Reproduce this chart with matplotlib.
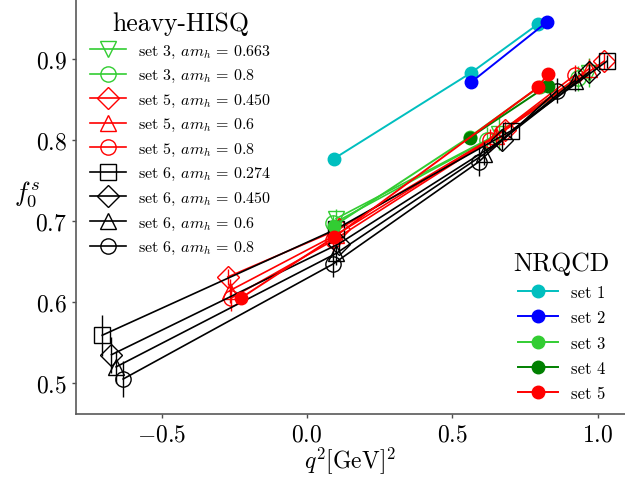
import numpy as np
import matplotlib
matplotlib.use("Agg")
import matplotlib.pyplot as plt

plt.rcParams['font.family'] = 'serif'
plt.rcParams['font.serif'] = ['cmr10']
plt.rcParams['mathtext.fontset'] = 'cm'
plt.rcParams['axes.formatter.use_mathtext'] = True

# heavy-HISQ data: (label, colour, marker, q2, f0, err)
hisq_labels = ["set 3, $am_h\\,=\\,0.663$", "set 3, $am_h\\,=\\,0.8$",
               "set 5, $am_h\\,=\\,0.450$", "set 5, $am_h\\,=\\,0.6$",
               "set 5, $am_h\\,=\\,0.8$",
               "set 6, $am_h\\,=\\,0.274$", "set 6, $am_h\\,=\\,0.450$",
               "set 6, $am_h\\,=\\,0.6$", "set 6, $am_h\\,=\\,0.8$"]
hisq_colors = ['limegreen', 'limegreen', 'red', 'red', 'red',
               'black', 'black', 'black', 'black']
hisq_markers = ['v', 'o', 'D', '^', 'o', 's', 'D', '^', 'o']

hisq_q2 = [
    [0.10, 0.66, 0.97],
    [0.09, 0.62, 0.93],
    [-0.272, 0.11, 0.68, 1.02],
    [-0.266, 0.10, 0.65, 0.97],
    [-0.260, 0.09, 0.63, 0.92],
    [-0.704, 0.10, 0.70, 1.03],
    [-0.672, 0.11, 0.67, 0.97],
    [-0.656, 0.10, 0.61, 0.92],
    [-0.632, 0.09, 0.59, 0.86],
]
hisq_f0 = [
    [0.703, 0.808, 0.883],
    [0.697, 0.800, 0.876],
    [0.631, 0.690, 0.812, 0.897],
    [0.614, 0.683, 0.805, 0.888],
    [0.605, 0.676, 0.800, 0.880],
    [0.559, 0.690, 0.811, 0.897],
    [0.535, 0.672, 0.800, 0.884],
    [0.520, 0.660, 0.783, 0.873],
    [0.505, 0.647, 0.773, 0.861],
]
hisq_err = [
    [0.012, 0.020, 0.018],
    [0.010, 0.016, 0.015],
    [0.010, 0.010, 0.012, 0.010],
    [0.015, 0.012, 0.012, 0.012],
    [0.016, 0.014, 0.014, 0.012],
    [0.025, 0.010, 0.010, 0.008],
    [0.022, 0.012, 0.012, 0.010],
    [0.020, 0.014, 0.014, 0.012],
    [0.022, 0.016, 0.018, 0.015],
]

# NRQCD data
nr_labels = ["set 1", "set 2", "set 3", "set 4", "set 5"]
nr_colors = ['c', 'b', 'limegreen', 'green', 'red']
nr_q2 = [
    [0.093, 0.564, 0.794],
    [0.563, 0.826],
    [0.093, 0.560, 0.800],
    [0.560, 0.827],
    [-0.227, 0.093, 0.794, 0.827],
]
nr_f0 = [
    [0.777, 0.883, 0.943],
    [0.871, 0.946],
    [0.694, 0.804, 0.866],
    [0.803, 0.867],
    [0.605, 0.680, 0.865, 0.881],
]

fig = plt.figure(figsize=(6.25, 4.81), dpi=100)
ax = fig.add_axes([0.1216, 0.137, 0.8784, 0.863])

hisq_handles = []
for lab, c, m, q, f, e in zip(hisq_labels, hisq_colors, hisq_markers,
                              hisq_q2, hisq_f0, hisq_err):
    ax.errorbar(q, f, yerr=e, fmt='none', ecolor=c, elinewidth=1, capsize=0)
    h, = ax.plot(q, f, color=c, marker=m, mfc='none', mec=c, ms=11,
                 mew=1, lw=1.2, label=lab)
    hisq_handles.append(h)

nr_handles = []
for lab, c, q, f in zip(nr_labels, nr_colors, nr_q2, nr_f0):
    h, = ax.plot(q, f, color=c, marker='o', ms=9, lw=1.4, label=lab)
    nr_handles.append(h)

ax.set_xlim(-0.794, 1.093)
ax.set_ylim(0.4617, 0.974)
ax.set_xticks([-0.5, 0.0, 0.5, 1.0])
ax.set_yticks([0.5, 0.6, 0.7, 0.8, 0.9])
ax.tick_params(labelsize=17, length=3, width=1, color='0.3')
for s in ['top', 'right']:
    ax.spines[s].set_visible(False)
for s in ['left', 'bottom']:
    ax.spines[s].set_color('0.35')
    ax.spines[s].set_linewidth(1.2)

ax.set_xlabel(r'$q^2[\mathrm{GeV}]^2$', fontsize=17, labelpad=-1)
ax.set_ylabel(r'$f_0^s$', fontsize=19, rotation=0, ha='center', va='center')
ax.yaxis.set_label_coords(-0.09, 0.53)

leg1 = ax.legend(handles=hisq_handles, loc='upper left', frameon=False,
                 fontsize=11.5, title='heavy-HISQ', title_fontsize=18.5,
                 bbox_to_anchor=(0.0, 1.005), handlelength=2.2,
                 labelspacing=0.47, handletextpad=0.8, borderaxespad=0.5)
ax.add_artist(leg1)
ax.legend(handles=nr_handles, loc='lower right', frameon=False,
          fontsize=12, title='NRQCD', title_fontsize=18.5,
          bbox_to_anchor=(1.0, -0.005), handlelength=2.4,
          labelspacing=0.6, handletextpad=0.8)

fig.savefig('out.png', dpi=100)
